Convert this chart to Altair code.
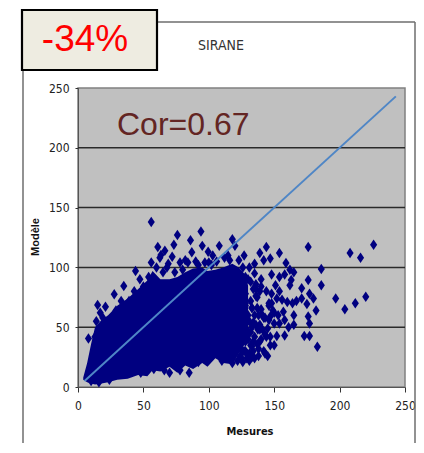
import altair as alt
import pandas as pd

# solid core of the cloud, read as envelope (Mesures, low, high)
core_x    = [4, 7, 10, 13, 18, 23, 30, 38, 46, 53, 57, 63, 70, 76, 82, 88, 95, 99, 105, 111, 118, 123, 127, 130]
core_low  = [6, 4, 3, 2, 3, 4, 6, 7, 10, 9, 14, 13, 17, 12, 18, 15, 20, 17, 24, 20, 19, 28, 35, 42]
core_high = [8, 20, 36, 50, 56, 60, 68, 74, 82, 89, 97, 90, 90, 92, 96, 99, 100, 97, 98, 100, 103, 100, 95, 85]

# individual diamonds
pts_x = [226, 208, 216, 186, 186, 197, 220, 212, 204, 183, 182, 180, 176, 176, 171, 177, 171, 167, 175,
         176, 177, 173, 177, 165, 165, 161, 158, 159, 154, 147, 144, 127, 139, 142, 135, 162, 165, 163,
         162, 158, 154, 151, 154, 148, 160, 164, 156, 152, 148, 157, 153, 158, 149, 147, 150, 154, 152,
         150, 147, 143, 145, 133, 137.5, 144, 139, 141, 145,
         56, 61, 62.6, 56, 44, 47.3, 35, 27.7, 15, 21, 8, 13,
         76, 73.3, 94, 86, 95, 108, 118, 66.4, 63.4, 72, 87, 99.5, 103, 114.7, 112, 120, 69,
         78, 82, 90, 68, 65, 100, 106, 123, 126,
         131, 130, 135, 140, 134, 128, 132, 137, 128, 131, 135, 129, 140, 143, 136, 130, 133, 128, 146, 132,
         10, 16, 24, 48, 58, 66, 78, 92, 110, 118, 126, 129, 122, 128, 125, 130,
         17, 14, 19, 24, 29, 33, 39, 43, 50, 54, 60, 74, 80, 84, 92, 97, 102, 116,
         128, 132, 136, 140, 144, 148, 128, 133, 138, 142, 146, 150, 129, 134, 139, 143, 147,
         128, 133, 138, 142, 146, 130, 135, 140, 129, 134, 138, 131, 135, 127, 125, 122, 118, 114, 108, 85, 70,
         133, 136, 139, 137, 134, 132, 136, 139, 141, 134, 137, 131, 128, 126, 124]
pts_y = [119, 112, 108, 98.7, 85, 74, 75.5, 70, 65, 33.7, 64, 74, 117, 89.5, 82.5, 78, 74, 72, 69.4,
         59, 53, 42.6, 42.6, 60, 52, 50, 43, 103.7, 112, 107.5, 117, 110, 112, 106, 103, 98, 96, 89.5,
         85, 94, 92, 85, 80, 94, 71, 70, 73, 74, 78, 63, 60, 56, 64, 59, 53, 53, 42.6,
         35, 35, 28, 26, 25, 48, 42, 38, 48, 49,
         138, 117, 108, 104, 97, 90, 84.4, 77.5, 68.6, 67, 40.6, 42,
         127, 119, 130, 122.7, 118, 118, 123.5, 114, 110.4, 109, 112.6, 113, 110, 110, 108, 118, 103,
         104, 106, 105, 100, 96, 104, 105, 106, 100,
         100, 90, 95, 90, 82, 78, 72, 75, 62, 55, 60, 48, 65, 58, 82, 40, 50, 30, 68, 35,
         5, 4, 6, 12, 15, 14, 14, 21, 22, 20, 21, 24, 85, 70, 45, 60,
         62, 55, 58, 56, 64, 72, 72, 80, 84, 92, 100, 96, 98, 104, 102, 104, 102, 106,
         92, 88, 86, 84, 80, 70, 68, 66, 60, 58, 70, 62, 54, 52, 48, 44, 42,
         38, 34, 32, 30, 56, 44, 42, 40, 28, 30, 26, 22, 24, 30, 24, 22, 24, 26, 28, 12, 12,
         66, 76, 80, 66, 54, 46, 52, 52, 60, 38, 36, 28, 40, 30, 26]

line_x = [5, 243]
line_y = [5, 243]
grid_values = [50, 100, 150, 200]
ticks = [0, 50, 100, 150, 200, 250]

NARROW = "DejaVu Sans Condensed"
SANS = "Liberation Sans"
X = alt.X("x:Q", scale=alt.Scale(domain=[0, 250], nice=False),
          axis=alt.Axis(values=ticks, title=None, grid=False, labelFont=NARROW, labelFontSize=12,
                        labelColor="#222222", domainColor="#555555", tickColor="#333333",
                        tickSize=5, labelPadding=8, labelFlush=False))
Y = alt.Y("y:Q", scale=alt.Scale(domain=[0, 250], nice=False),
          axis=alt.Axis(values=ticks, title=None, grid=False, labelFont=NARROW, labelFontSize=12,
                        labelColor="#222222", domainColor="#555555", tickColor="#333333",
                        tickSize=3, labelPadding=6))

pts = pd.DataFrame({"x": pts_x, "y": pts_y})
core = pd.DataFrame({"x": core_x, "y": core_low, "y2": core_high})
line = pd.DataFrame({"x": line_x, "y": line_y})
grid = pd.DataFrame({"y": grid_values})

gridl = alt.Chart(grid).mark_rule(color="#2a2a2a", strokeWidth=1.5).encode(y=Y)
area = alt.Chart(core).mark_area(color="#000080", opacity=1).encode(x=X, y=Y, y2="y2:Q")
diamonds = alt.Chart(pts).mark_point(
    shape="M0,-1L0.68,0L0,1L-0.68,0Z", filled=True, size=110, color="#000080", opacity=1
).encode(x=X, y=Y)
fit = alt.Chart(line).mark_line(color="#4f86c6", strokeWidth=2).encode(x=X, y=Y)

def t(s, x, y, **k):
    return alt.Chart(pd.DataFrame({"t": [s]})).mark_text(baseline="middle", **k).encode(
        x=alt.value(x), y=alt.value(y), text="t:N")

L, T = 70, 80  # plot origin inside the svg
def frame(x1, y1, x2, y2):
    return alt.Chart(pd.DataFrame({"a": [0]})).mark_rule(color="#6e6e6e", strokeWidth=1.5).encode(
        x=alt.value(x1), x2=alt.value(x2), y=alt.value(y1), y2=alt.value(y2))

box = alt.Chart(pd.DataFrame({"a": [0]})).mark_rect(
    fill="#eeece1", stroke="#000000", strokeWidth=2.2).encode(
    x=alt.value(22 - 8 - L), x2=alt.value(157 - 8 - L), y=alt.value(10 - 8 - T), y2=alt.value(70 - 8 - T))

chart = alt.layer(
    frame(23 - 8 - L, 22 - 8 - T, 415 - 8 - L, 22 - 8 - T),
    frame(23 - 8 - L, 22 - 8 - T, 23 - 8 - L, 443 - 8 - T),
    frame(415 - 8 - L, 22 - 8 - T, 415 - 8 - L, 443 - 8 - T),
    gridl, area, diamonds, fit, box,
    t("-34%", 85 - 8 - L, 40 - 8 - T, font=SANS, fontSize=37, color="#ff0000", align="center"),
    t("SIRANE", 221 - 8 - L, 46 - 8 - T, font=NARROW, fontSize=14, color="#333333", align="center"),
    t("Cor=0.67", 117 - 8 - L, 125 - 8 - T, font=SANS, fontSize=32, color="#632523", align="left"),
    t("Modèle", 36 - 8 - L, 237 - 8 - T, font=SANS, fontSize=11, fontWeight="bold", color="#111111",
      align="center", angle=270),
    t("Mesures", 250 - 8 - L, 432 - 8 - T, font=NARROW, fontSize=11, fontWeight="bold", color="#111111",
      align="center"),
).resolve_scale(x="shared", y="shared").properties(
    width=327, height=299,
    padding={"left": L, "top": T, "right": 11, "bottom": 56},
    autosize=alt.AutoSizeParams(type="none"),
    background="#ffffff",
).configure_view(fill="#c0c0c0", stroke="#808080", strokeWidth=1.5)

chart.save("out.html", embed_options={"renderer": "svg", "actions": False})
